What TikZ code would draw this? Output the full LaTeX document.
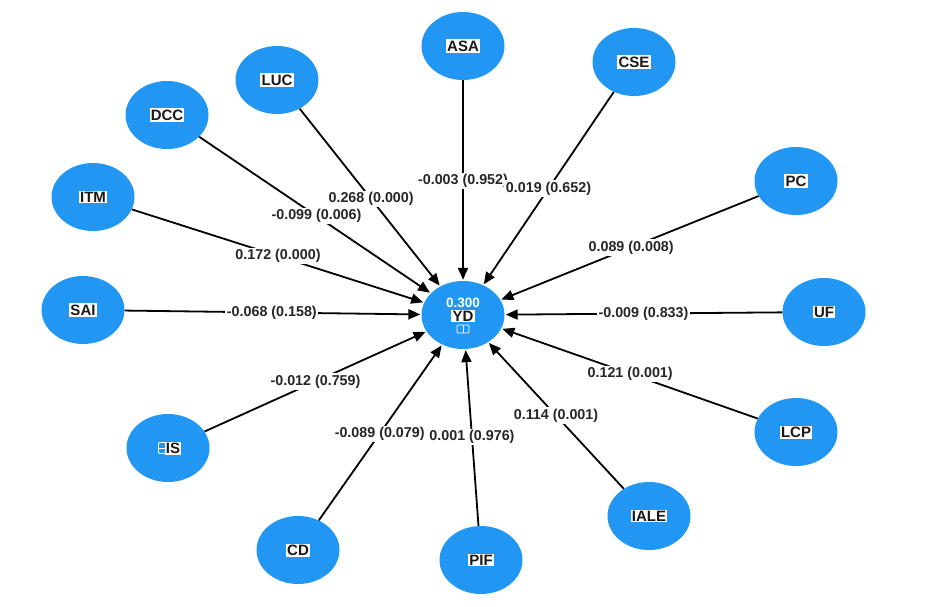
\documentclass[tikz,border=0pt]{standalone}
\usepackage{fontspec}
\setmainfont{Liberation Sans}
\usetikzlibrary{arrows.meta,calc,shapes.geometric}
\definecolor{nodeblue}{RGB}{33,150,243}
\begin{document}
\begin{tikzpicture}[x=1pt,y=-1pt,
  var/.style={ellipse, fill=nodeblue, minimum width=83pt, minimum height=68pt, inner sep=0pt},
  vtext/.style={fill=white, text=black!90, inner sep=1.2pt, font=\fontsize{15}{16}\selectfont\bfseries},
  arr/.style={draw=black, line width=1.8pt, -{Triangle[length=12pt,width=10pt]}, shorten >=1pt},
  lbl/.style={fill=white, text=black!85, inner sep=1.5pt, font=\fontsize{14.3}{15}\selectfont\bfseries}]
\useasboundingbox (0,0) rectangle (931,606);
% construct nodes
\node[var] (YD)   at (463,315) {};
\node[var] (ASA)  at (463,46)  {};
\node[var] (CSE)  at (634,62)  {};
\node[var] (LUC)  at (277,80)  {};
\node[var] (DCC)  at (167,115) {};
\node[var] (ITM)  at (93,197)  {};
\node[var] (PC)   at (796,181) {};
\node[var] (SAI)  at (83,310)  {};
\node[var] (UF)   at (824,312) {};
\node[var] (LCP)  at (796,432) {};
\node[var] (IS)   at (168,448) {};
\node[var] (IALE) at (649,516) {};
\node[var] (CD)   at (298,550) {};
\node[var] (PIF)  at (481,560) {};
% node texts
\node[vtext] (tASA)  at (ASA)  {ASA};
\node[vtext] (tCSE)  at (CSE)  {CSE};
\node[vtext] (tLUC)  at (LUC)  {LUC};
\node[vtext] (tDCC)  at (DCC)  {DCC};
\node[vtext] (tITM)  at (ITM)  {ITM};
\node[vtext] (tPC)   at (PC)   {PC};
\node[vtext] (tSAI)  at (SAI)  {SAI};
\node[vtext] (tUF)   at (UF)   {UF};
\node[vtext] (tLCP)  at (LCP)  {LCP};
\node[vtext] (tIS)   at ($(IS)+(5,0)$) {IS};
\node[vtext] (tIALE) at (IALE) {IALE};
\node[vtext] (tCD)   at (CD)   {CD};
\node[vtext] (tPIF)  at (PIF)  {PIF};
\node[draw=white, line width=0.9pt, rounded corners=1pt, minimum width=7pt, minimum height=11pt, inner sep=0pt] (iIS) at ($(IS)+(-6,0)$) {};
\draw[white, line width=0.8pt] (iIS.west) -- (iIS.east);
% centre texts
\node[text=white, inner sep=0pt, font=\fontsize{13.5}{14}\selectfont\bfseries] (r2) at ($(YD)+(0,-12)$) {0.300};
\node[vtext] (tYD) at ($(YD)+(0,1)$) {YD};
\node[draw=white, line width=0.9pt, rounded corners=1pt, minimum width=12pt, minimum height=8pt, inner sep=0pt] (iYD) at ($(YD)+(0,14)$) {};
\draw[white, line width=0.8pt] (iYD.north) -- (iYD.south);
% connectors
\foreach \s in {ASA,CSE,LUC,DCC,ITM,PC,SAI,UF,LCP,IS,IALE,CD,PIF}
  \draw[arr] (\s) -- (YD);
% path labels
\node[lbl] (lLUC)  at ($(LUC)!0.506!(YD)$)  {0.268 (0.000)};
\node[lbl] (lDCC)  at ($(DCC)!0.505!(YD)$)  {-0.099 (0.006)};
\node[lbl] (lITM)  at ($(ITM)!0.5!(YD)$)    {0.172 (0.000)};
\node[lbl] (lASA)  at ($(ASA)!0.502!(YD)$)  {-0.003 (0.952)};
\node[lbl] (lCSE)  at ($(CSE)!0.5!(YD)$)    {0.019 (0.652)};
\node[lbl] (lPC)   at ($(PC)!0.495!(YD)$)   {0.089 (0.008)};
\node[lbl] (lUF)   at ($(UF)!0.5!(YD)$)     {-0.009 (0.833)};
\node[lbl] (lSAI)  at ($(SAI)!0.497!(YD)$)  {-0.068 (0.158)};
\node[lbl] (lLCP)  at ($(LCP)!0.498!(YD)$)  {0.121 (0.001)};
\node[lbl] (lIS)   at ($(IS)!0.5!(YD)$)     {-0.012 (0.759)};
\node[lbl] (lIALE) at ($(IALE)!0.5!(YD)$)   {0.114 (0.001)};
\node[lbl] (lCD)   at ($(CD)!0.495!(YD)$)   {-0.089 (0.079)};
\node[lbl] (lPIF)  at ($(PIF)!0.502!(YD)$)  {0.001 (0.976)};
\end{tikzpicture}
\end{document}
